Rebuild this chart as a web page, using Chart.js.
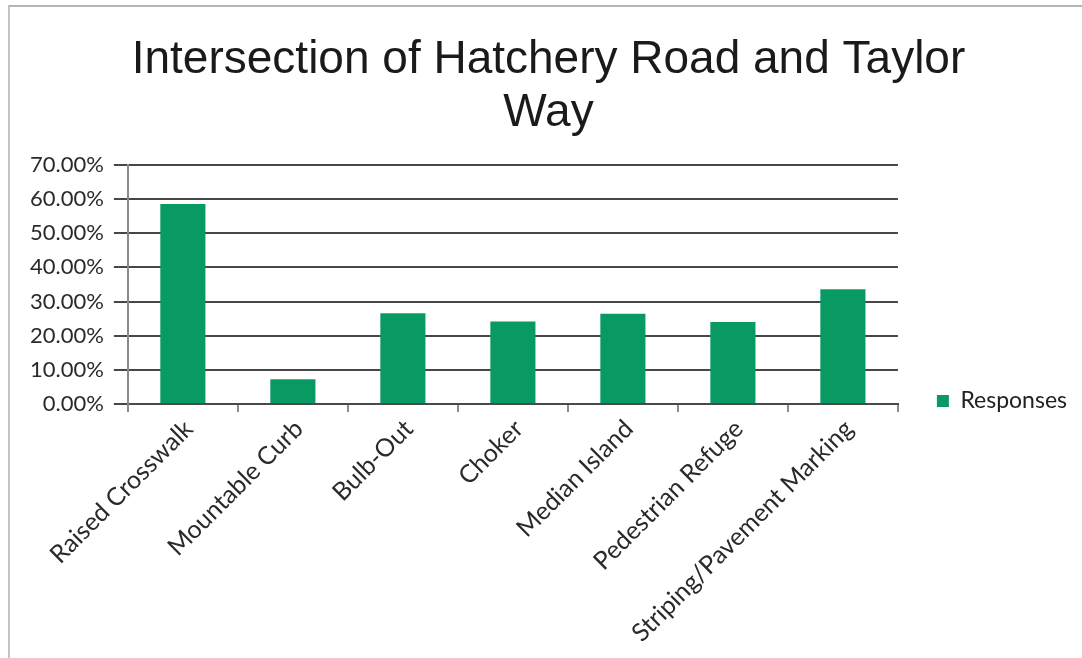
<!DOCTYPE html>
<html>
<head>
<meta charset="utf-8">
<title>Intersection of Hatchery Road and Taylor Way</title>
<script src="https://cdn.jsdelivr.net/npm/chart.js@4/dist/chart.umd.min.js"></script>
<style>
    html, body { margin: 0; padding: 0; background: #fff; }
    #wrap { position: relative; width: 1082px; height: 658px; }
    #frame {
        position: absolute; left: 8px; top: 5px; right: 0; bottom: 0;
        border-top: 2px solid #b5b5b5; border-left: 2px solid #c4c4c4;
        pointer-events: none;
    }
</style>
</head>
<body>
<div id="wrap">
    <canvas id="chart" width="1082" height="658"></canvas>
    <div id="frame"></div>
</div>
<script>
// chart data
const categories = [
    'Raised Crosswalk',
    'Mountable Curb',
    'Bulb-Out',
    'Choker',
    'Median Island',
    'Pedestrian Refuge',
    'Striping/Pavement Marking'
];
const responses = [58.5, 7.3, 26.6, 24.2, 26.4, 24.0, 33.6];
const yTicks = [0, 10, 20, 30, 40, 50, 60, 70];

const green = '#089a62';

const ctx = document.getElementById('chart').getContext('2d');
new Chart(ctx, {
    type: 'bar',
    data: {
        labels: categories,
        datasets: [{
            label: 'Responses',
            data: responses,
            backgroundColor: green,
            borderWidth: 0,
            barPercentage: 0.41,
            categoryPercentage: 1.0
        }]
    },
    options: {
        responsive: false,
        animation: false,
        layout: {
            padding: { left: 20, right: 5, top: 0, bottom: 8 }
        },
        plugins: {
            title: {
                display: true,
                text: ['Intersection of Hatchery Road and Taylor', 'Way'],
                color: '#1a1a1a',
                font: { family: '"Liberation Sans", Arial, sans-serif', size: 46, weight: 'normal', lineHeight: 1.15 },
                padding: { top: 34, bottom: 25 }
            },
            legend: {
                position: 'right',
                maxWidth: 185,
                // empty title only pushes the single entry down to where Excel put it
                title: {
                    display: true,
                    text: ' ',
                    font: { size: 10, lineHeight: 1 },
                    padding: { top: 0, bottom: 142 }
                },
                labels: {
                    boxWidth: 12,
                    boxHeight: 12,
                    padding: 39,
                    color: '#222',
                    font: { family: 'Lato, sans-serif', size: 23 }
                }
            },
            tooltip: { enabled: false }
        },
        scales: {
            x: {
                grid: {
                    offset: true,
                    drawOnChartArea: false,
                    drawTicks: true,
                    tickLength: 8,
                    color: '#8a8a8a',
                    lineWidth: 2
                },
                border: { color: '#4a4a4a', width: 2 },
                ticks: {
                    color: '#2a2a2a',
                    font: { family: 'Lato, sans-serif', size: 25 },
                    minRotation: 45,
                    maxRotation: 45,
                    labelOffset: 6,
                    padding: 2
                }
            },
            y: {
                min: 0,
                max: 70,
                afterBuildTicks: (scale) => {
                    scale.ticks = yTicks.map(v => ({ value: v }));
                },
                grid: {
                    color: '#474747',
                    lineWidth: 2,
                    drawTicks: true,
                    tickLength: 14
                },
                border: { color: '#8a8a8a', width: 2 },
                ticks: {
                    color: '#2a2a2a',
                    font: { family: 'Lato, sans-serif', size: 22 },
                    padding: 10,
                    callback: (v) => Number(v).toFixed(2) + '%'
                }
            }
        }
    }
});
</script>
</body>
</html>
